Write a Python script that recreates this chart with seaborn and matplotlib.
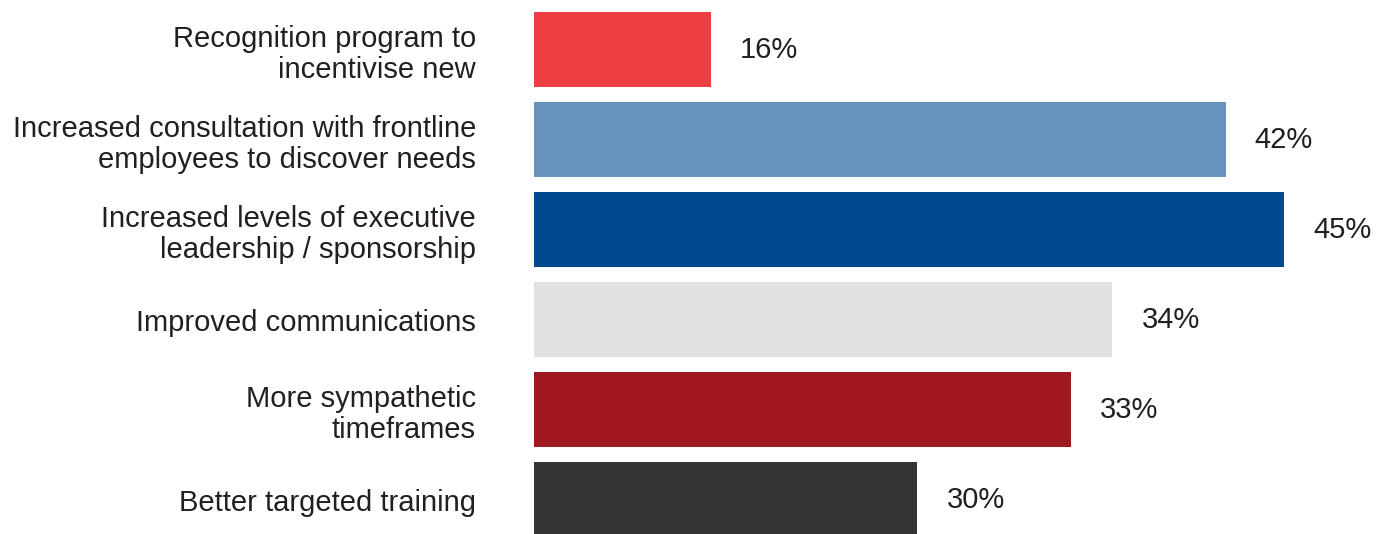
import matplotlib
matplotlib.use("Agg")
import matplotlib.pyplot as plt
import seaborn as sns
import pandas as pd

categories = [
    "Recognition program to\nincentivise new",
    "Increased consultation with frontline\nemployees to discover needs",
    "Increased levels of executive\nleadership / sponsorship",
    "Improved communications",
    "More sympathetic\ntimeframes",
    "Better targeted training",
]
# bar lengths as drawn in the picture (percent units)
bar_lengths = [10.6, 41.5, 45.0, 34.7, 32.2, 23.0]
value_labels = ["16%", "42%", "45%", "34%", "33%", "30%"]
colors = ["#EF3E42", "#6793BE", "#00498F", "#E1E1E1", "#A0191E", "#333333"]

sns.set_theme(style="white")
plt.rcParams["font.family"] = ["Liberation Sans", "DejaVu Sans"]

df = pd.DataFrame({"category": categories, "value": bar_lengths})

W, H = 1385, 534
fig = plt.figure(figsize=(W / 100, H / 100), dpi=100)
ax = fig.add_axes([534 / W, 0, (W - 534) / W, 1])

sns.barplot(data=df, y="category", x="value", hue="category",
            palette=colors, order=categories, hue_order=categories,
            orient="h", width=75 / 90, legend=False, ax=ax, saturation=1,
            linewidth=0)

ax.set_xlim(0, (W - 534) / (750 / 45))
ax.set_ylim(5.383, -0.55)
for c, lab in zip(ax.containers, value_labels):
    ax.bar_label(c, labels=[lab], padding=21, fontsize=21, color="#231f20")

ax.set_xlabel("")
ax.set_ylabel("")
ax.set_xticks([])
ax.tick_params(axis="y", length=0, pad=41.8, labelsize=21, labelcolor="#231f20")
for lbl in ax.get_yticklabels():
    lbl.set_linespacing(1.17)
    lbl.set_horizontalalignment("right")
for s in ax.spines.values():
    s.set_visible(False)

fig.savefig("out.png", dpi=100)
